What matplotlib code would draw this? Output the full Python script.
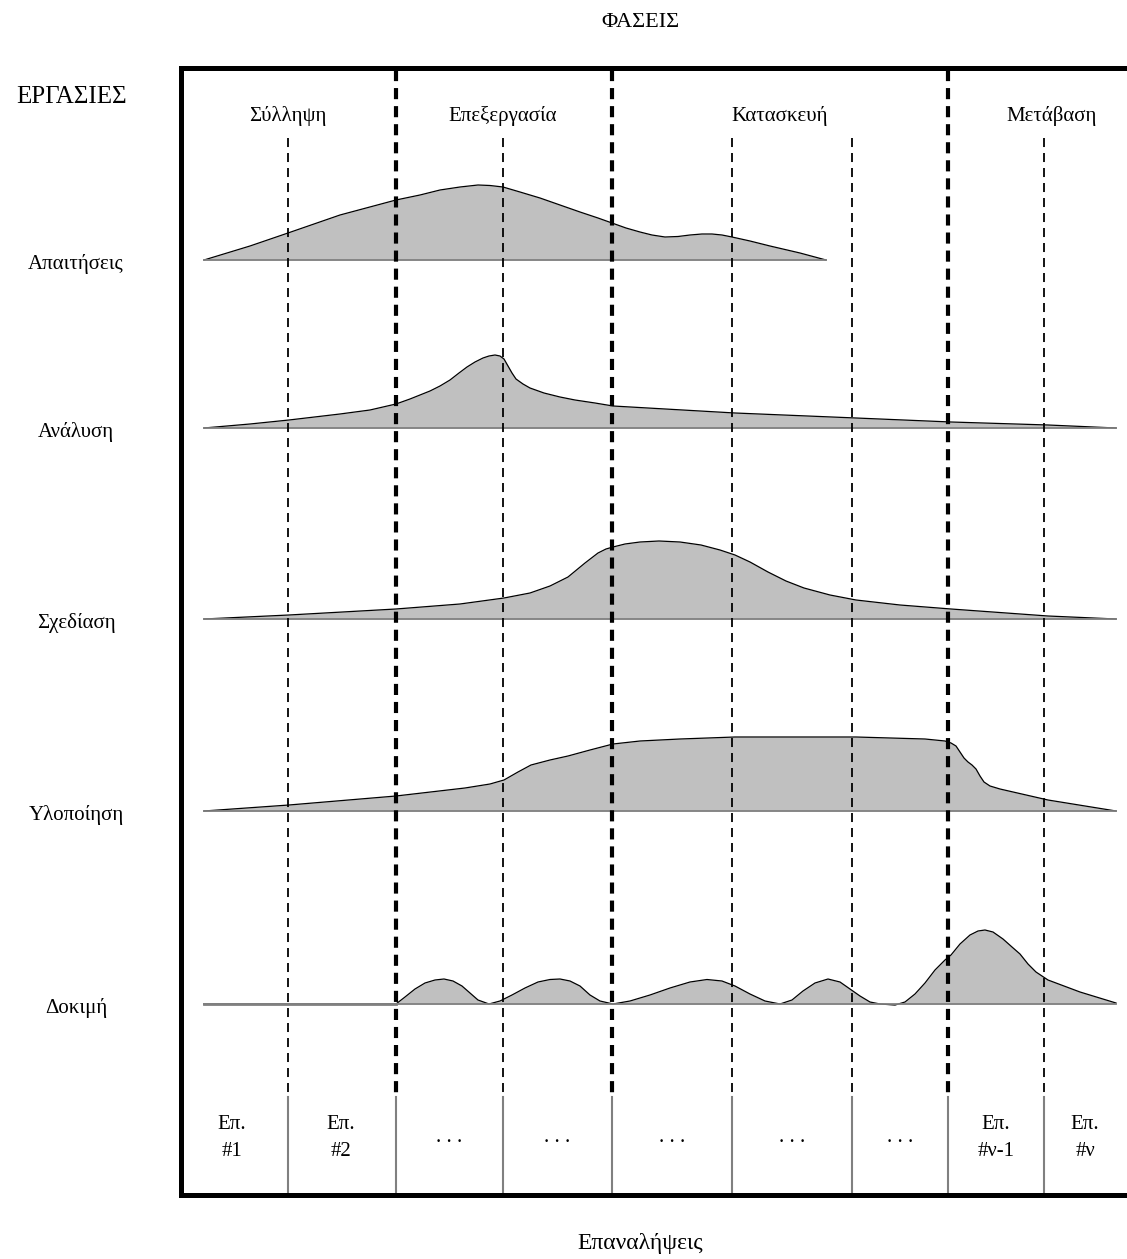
import matplotlib.pyplot as plt

plt.rcParams['font.family'] = ['Liberation Serif', 'DejaVu Serif']
plt.rcParams['lines.scale_dashes'] = False

# tasks (rows) and their baselines (image pixel units, y grows downwards)
tasks = ['Απαιτήσεις', 'Ανάλυση', 'Σχεδίαση', 'Υλοποίηση', 'Δοκιμή']
task_base = [260, 428, 619, 811, 1004]

# phases
phases = ['Σύλληψη', 'Επεξεργασία', 'Κατασκευή', 'Μετάβαση']
phase_label_x = [288, 503, 780, 1052]
phase_bounds = [396, 612, 948]              # thick dashed lines
iter_bounds = [288, 503, 732, 852, 1044]    # thin dashed lines
iter_label_x = [232, 341, 449, 557, 672, 792, 900, 996, 1085]
iter_labels = ['Επ.\n#1', 'Επ.\n#2', '. . .', '. . .', '. . .', '. . .', '. . .',
               'Επ.\n#ν-1', 'Επ.\n#ν']

# effort curves: x position, curve top
req_x = [204, 250, 288, 340, 396, 420, 440, 460, 478, 490, 503, 520, 540, 560, 580, 598, 612, 626, 640,
         652, 665, 678, 690, 702, 712, 722, 732, 750, 770, 800, 826]
req_y = [260, 246, 233, 215, 200, 195, 190, 187, 185, 185.5, 187, 192, 198, 205, 212, 218, 223, 228, 232,
         235, 237, 236.5, 235, 234, 234, 235, 237, 241, 246, 253, 260]

ana_x = [204, 250, 289, 340, 370, 396, 410, 420, 430, 440, 450, 459, 467, 475, 483, 489, 495, 500, 504,
         508, 512, 516, 523, 530, 544, 560, 575, 595, 613, 735, 856, 951, 1048, 1116]
ana_y = [428, 424, 420, 414, 410, 404, 399, 395, 391, 386, 380, 373, 367, 362, 358, 356, 355, 356, 359,
         366, 373, 379, 384, 388, 393, 397, 400, 403, 406, 413, 418, 422, 425, 428]

des_x = [204, 289, 396, 460, 504, 530, 550, 568, 585, 598, 606, 613, 625, 640, 659, 680, 701, 720, 735,
         750, 768, 786, 804, 830, 856, 900, 951, 1048, 1116]
des_y = [619, 615, 609, 604, 598, 593, 586, 577, 563, 553, 549, 547, 544, 542, 541, 542, 545, 550, 555,
         562, 572, 581, 588, 595, 600, 605, 609, 616, 619]

imp_x = [204, 289, 396, 465, 490, 504, 518, 531, 550, 568, 590, 613, 640, 680, 735, 856, 925, 945, 951,
         956, 960, 964, 968, 972, 976, 980, 984, 990, 1000, 1048, 1116]
imp_y = [811, 805, 796, 788, 784, 780, 772, 765, 760, 756, 750, 744, 741, 739, 737, 737, 739, 741, 743,
         746, 752, 758, 762, 765, 769, 776, 782, 786, 789, 800, 811]

test_x = [204, 396, 405, 415, 425, 435, 444, 453, 462, 470, 478, 489,
          500, 512, 525, 538, 550, 560, 570, 580, 590, 600, 613,
          630, 650, 670, 690, 707, 722, 735, 750, 765, 780,
          792, 803, 815, 828, 840, 850, 860, 870, 880, 895,
          905, 915, 925, 935, 945, 951, 960, 970, 978, 985, 993, 1003, 1012, 1020, 1028, 1036,
          1048, 1080, 1116]
test_y = [1004, 1004, 997, 989, 983, 980, 979, 981, 986, 993, 1000, 1004,
          1001, 995, 988, 982, 979.5, 979, 981, 986, 995, 1001, 1004,
          1001, 995, 988, 982, 979.5, 981, 986, 994, 1001, 1004,
          1000, 991, 983, 979, 982, 989, 996, 1002, 1004, 1005,
          1002, 994, 983, 970, 960, 955, 944, 935, 931, 930, 932, 939, 947, 954, 964, 972,
          980, 992, 1003]

curves = [(req_x, req_y), (ana_x, ana_y), (des_x, des_y), (imp_x, imp_y), (test_x, test_y)]

fig = plt.figure(figsize=(11.27, 12.59), dpi=100)
ax = fig.add_axes([0, 0, 1, 1])
ax.set_xlim(0, 1127)
ax.set_ylim(1259, 0)
ax.axis('off')

# humps
for (cx, cy), base in zip(curves, task_base):
    ax.fill_between(cx, base, cy, color='#c0c0c0', lw=0, zorder=1)
    ax.plot(cx, cy, color='black', lw=0.9, zorder=2, solid_joinstyle='round')
    ax.plot([cx[0], cx[-1]], [base, base], color='#808080', lw=1.3, zorder=2)
# flat start of the test curve
ax.plot([204, 396], [task_base[4], task_base[4]], color='#808080', lw=2, zorder=2)

# dashed separators
for x in iter_bounds:
    ax.plot([x, x], [138, 1097], color='black', lw=1.3, dashes=(6.5, 4.3), zorder=3)
    ax.plot([x, x], [1097, 1195], color='#808080', lw=1.5, zorder=3)
for x in phase_bounds:
    ax.plot([x, x], [70, 1097], color='black', lw=3, dashes=(8, 5), zorder=3)
    ax.plot([x, x], [1097, 1195], color='#808080', lw=1.5, zorder=3)

# frame
ax.plot([1140, 181, 181, 1140], [68, 68, 1195, 1195], color='black', lw=3.6,
        solid_joinstyle='miter', zorder=4, clip_on=False)

# texts
ax.text(640, 22, 'ΦΑΣΕΙΣ', ha='center', va='center', fontsize=16)
ax.text(72, 97, 'ΕΡΓΑΣΙΕΣ', ha='center', va='center', fontsize=18)
ax.text(640, 1243, 'Επαναλήψεις', ha='center', va='center', fontsize=17)
for name, x in zip(phases, phase_label_x):
    ax.text(x, 116, name, ha='center', va='center', fontsize=15)
for name, base in zip(tasks, task_base):
    ax.text(76, base + 4, name, ha='center', va='center', fontsize=15)
for lab, x in zip(iter_labels, iter_label_x):
    ax.text(x, 1138, lab, ha='center', va='center', fontsize=15, linespacing=1.6)

fig.savefig('out.png', dpi=100)
